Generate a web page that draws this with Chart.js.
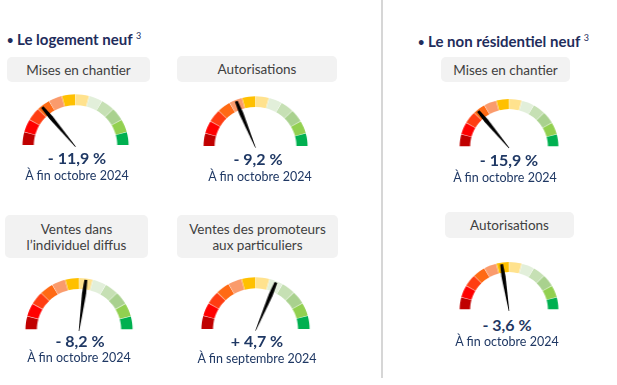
<!DOCTYPE html>
<html lang="fr">
<head>
<meta charset="utf-8">
<script src="https://cdn.jsdelivr.net/npm/chart.js@4.4.1/dist/chart.umd.min.js"></script>
<style>
  html, body { margin: 0; padding: 0; background: #fff; }
  #page { position: relative; width: 617px; height: 385px; overflow: hidden; font-family: Lato, 'Open Sans', sans-serif; }
  .section { position: absolute; font-weight: 700; color: #1F2D5C; font-size: 15px; white-space: nowrap; line-height: 1; }
  .section .dot { font-size: 11px; vertical-align: 1px; }
  .section sup { font-size: 9px; font-weight: 400; vertical-align: 6px; }
  .box { position: absolute; background: #F2F2F2; border-radius: 5px; color: #404040; font-size: 13.5px; line-height: 16px; text-align: center; display: flex; align-items: center; justify-content: center; }
  .val, .per { position: absolute; transform: translate(-50%, -50%); white-space: nowrap; color: #1F3864; line-height: 1; }
  .val { font-weight: 700; font-size: 16px; }
  .per { font-size: 12.5px; }
  .sep { position: absolute; left: 381px; top: 0; width: 2px; height: 378px; background: #D6D6D6; }
  canvas { position: absolute; transform: scaleX(1.04); }
</style>
</head>
<body>
<div id="page">
  <div class="sep"></div>
</div>
<script>
// section headers
const sections = ['Le logement neuf', 'Le non résidentiel neuf'];

// one entry per gauge: 4 in the left section, 2 in the right one
const titles = ['Mises en chantier', 'Autorisations', 'Ventes dans<br>l’individuel diffus', 'Ventes des promoteurs<br>aux particuliers', 'Mises en chantier', 'Autorisations'];
const changes = [-11.9, -9.2, -8.2, 4.7, -15.9, -3.6];
const periods = ['À fin octobre 2024', 'À fin octobre 2024', 'À fin octobre 2024', 'À fin septembre 2024', 'À fin octobre 2024', 'À fin octobre 2024'];
const needlePos = [3.41, 4.55, 6.49, 7.48, 3.42, 5.42];

// dial bands
const segments = [1, 1, 1, 1, 1, 1, 1, 1, 1, 1, 1, 1];
const segmentColors = ['#C00000', '#FF0000', '#FF3D12', '#FF6A14', '#FA9B6C', '#FFC000', '#FFE28E', '#E2EFDA', '#C6E0B4', '#A9D18E', '#92D050', '#00B050'];

// placement on the page
const sectionPos = [[7, 31], [418, 33]];
const layout = [
  { box: [7, 57, 143, 25], cx: 75, cy: 145.5, r: 49.5, val: [77, 158], per: [77, 176] },
  { box: [177, 56, 160, 26], cx: 255.5, cy: 146.5, r: 48.5, val: [258, 159], per: [260, 177] },
  { box: [5, 215, 143, 43], cx: 78.5, cy: 329, r: 50, val: [80, 341], per: [79, 358] },
  { box: [177, 215, 161, 43], cx: 255.8, cy: 329.3, r: 50.5, val: [257, 341], per: [257, 359] },
  { box: [441, 57, 129, 25], cx: 508.5, cy: 146, r: 46, val: [509, 160], per: [505, 177.5] },
  { box: [445, 212, 129, 26], cx: 509, cy: 309, r: 46, val: [507, 325], per: [507, 342] }
];

const page = document.getElementById('page');

function fmt(v) {
  return (v < 0 ? '- ' : '+ ') + Math.abs(v).toFixed(1).replace('.', ',') + ' %';
}

const needlePlugin = {
  id: 'needle',
  afterDatasetsDraw(chart, args, opts) {
    const arc = chart.getDatasetMeta(0).data[0];
    const x = arc.x, y = arc.y + 1.5, R = arc.outerRadius;
    const a = Math.PI + opts.value / segments.length * Math.PI;
    const dx = Math.cos(a), dy = Math.sin(a);
    const px = -dy, py = dx;
    const pt = (d, w) => [x + dx * d + px * w, y + dy * d + py * w];
    const pts = [pt(0, 0.3), pt(R * 0.76, 2), pt(R * 1.03, 1.4), pt(R * 1.03, -1.4), pt(R * 0.76, -2), pt(0, -0.3)];
    const ctx = chart.ctx;
    ctx.save();
    ctx.beginPath();
    ctx.moveTo(pts[0][0], pts[0][1]);
    for (let i = 1; i < pts.length; i++) ctx.lineTo(pts[i][0], pts[i][1]);
    ctx.closePath();
    ctx.fillStyle = '#000';
    ctx.fill();
    ctx.restore();
  }
};

sections.forEach(function (s, i) {
  const d = document.createElement('div');
  d.className = 'section';
  d.style.left = sectionPos[i][0] + 'px';
  d.style.top = sectionPos[i][1] + 'px';
  d.innerHTML = '<span class="dot">•</span> ' + s + ' <sup>3</sup>';
  page.appendChild(d);
});

layout.forEach(function (g, i) {
  const b = document.createElement('div');
  b.className = 'box';
  b.style.left = g.box[0] + 'px';
  b.style.top = g.box[1] + 'px';
  b.style.width = g.box[2] + 'px';
  b.style.height = g.box[3] + 'px';
  b.innerHTML = titles[i];
  page.appendChild(b);

  const W = Math.ceil(2 * g.r + 8);
  const H = Math.ceil(g.r + 7);
  const c = document.createElement('canvas');
  c.width = W;
  c.height = H;
  c.style.width = W + 'px';
  c.style.height = H + 'px';
  c.style.left = (g.cx - W / 2) + 'px';
  c.style.top = (g.cy - (H / 2 + g.r / 2)) + 'px';
  page.appendChild(c);

  new Chart(c.getContext('2d'), {
    type: 'doughnut',
    data: {
      labels: segmentColors,
      datasets: [{
        data: segments,
        backgroundColor: segmentColors,
        borderWidth: 0,
        spacing: 3
      }]
    },
    options: {
      responsive: false,
      animation: false,
      events: [],
      rotation: -90,
      circumference: 180,
      radius: g.r,
      cutout: '78%',
      layout: { padding: 0 },
      plugins: {
        legend: { display: false },
        tooltip: { enabled: false },
        needle: { value: needlePos[i] }
      }
    },
    plugins: [needlePlugin]
  });

  const v = document.createElement('div');
  v.className = 'val';
  v.style.left = g.val[0] + 'px';
  v.style.top = g.val[1] + 'px';
  v.textContent = fmt(changes[i]);
  page.appendChild(v);

  const p = document.createElement('div');
  p.className = 'per';
  p.style.left = g.per[0] + 'px';
  p.style.top = g.per[1] + 'px';
  p.textContent = periods[i];
  page.appendChild(p);
});
</script>
</body>
</html>
